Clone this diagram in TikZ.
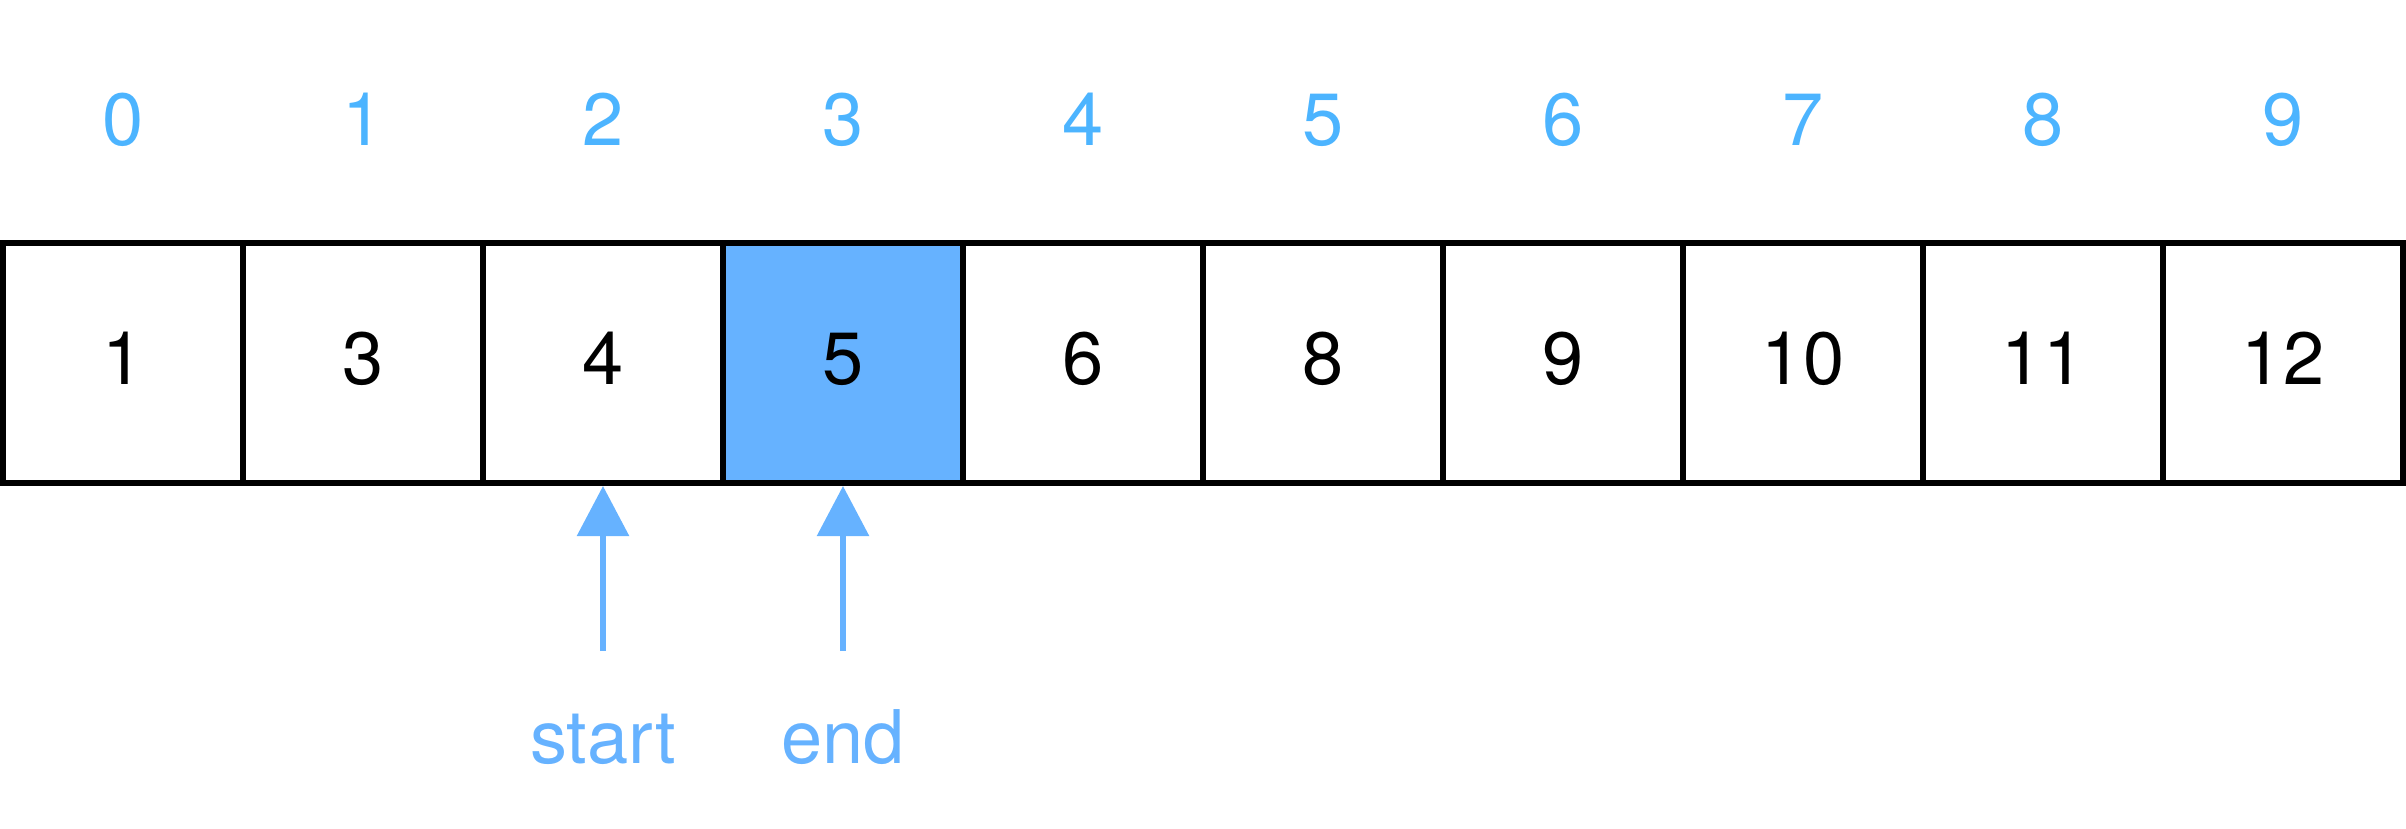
\documentclass[tikz,border=0pt]{standalone}
\usepackage{fontspec}
\setmainfont{TeX Gyre Heros}
\usetikzlibrary{arrows.meta}
\definecolor{cellblue}{HTML}{66B2FF}
\definecolor{idxblue}{HTML}{4CB4FF}
\begin{document}
\begin{tikzpicture}[x=0.25pt,y=-0.25pt,
  cell/.style={draw=black,line width=1.5pt,minimum width=60pt,minimum height=60pt,inner sep=0pt,outer sep=0pt},
  val/.style={anchor=base,font=\fontsize{18.5}{22}\selectfont,text=black,inner sep=0pt},
  idx/.style={anchor=base,font=\fontsize{18.5}{22}\selectfont,text=idxblue,inner sep=0pt},
  ptr/.style={draw=cellblue,line width=1.5pt,shorten >=0.75pt,-{Triangle[length=12.5pt,width=12.75pt]}},
  plabel/.style={anchor=base,font=\fontsize{18.5}{22}\selectfont,text=cellblue,inner sep=0pt}]
\useasboundingbox (0,0) rectangle (2406,828);
\foreach \v/\f [count=\i from 0] in {1/white,3/white,4/white,5/cellblue,6/white,8/white,9/white,10/white,11/white,12/white} {
  \node[cell,fill=\f] (c\i) at ({123+240*\i},363) {};
  \node[val] (v\i) at ({123+240*\i},384) {\v};
  \node[idx] (i\i) at ({123+240*\i},145) {\i};
}
\coordinate (sb) at (603,651);
\coordinate (eb) at (843,651);
\draw[ptr] (sb) -- (c2.south);
\draw[ptr] (eb) -- (c3.south);
\node[plabel] (ls) at (603,763) {start};
\node[plabel] (le) at (843,763) {end};
\end{tikzpicture}
\end{document}
